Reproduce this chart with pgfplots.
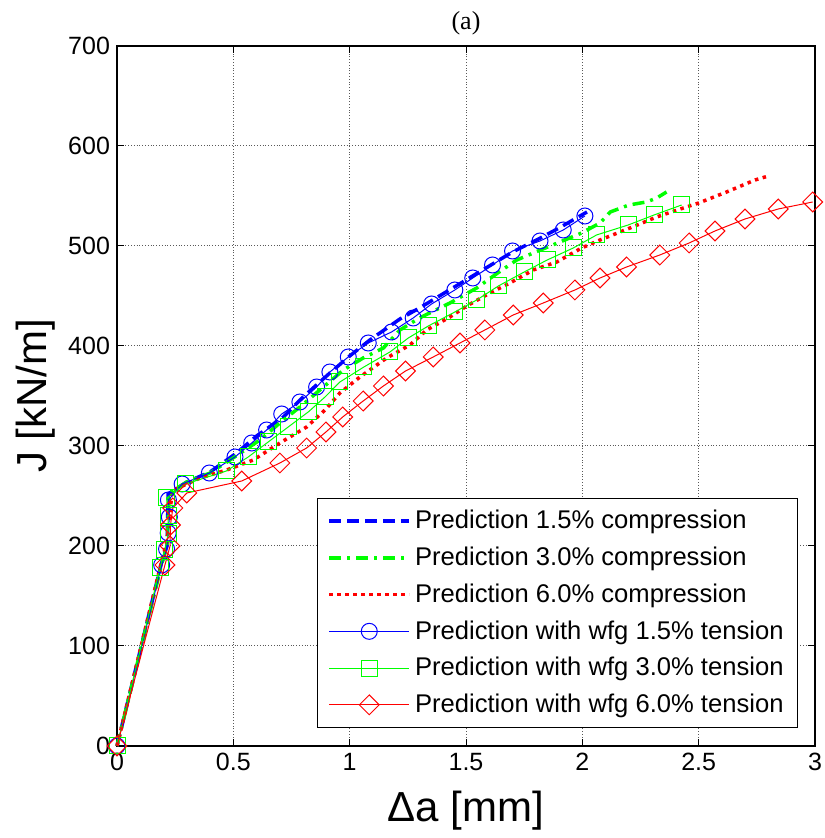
\documentclass[border=0pt]{standalone}
\usepackage{fontspec}
\setmainfont{Liberation Sans}
\newfontfamily\seriffont{Liberation Serif}
\usepackage{pgfplots}
\pgfplotsset{compat=1.18}

\definecolor{mblue}{RGB}{0,0,255}
\definecolor{mgreen}{RGB}{0,255,0}
\definecolor{mred}{RGB}{255,0,0}

\begin{document}
\begin{tikzpicture}
\path[use as bounding box] (-58.5pt,-46pt) rectangle (353.5pt,373pt);
\begin{axis}[
    scale only axis, width=349pt, height=350pt,
    xmin=0, xmax=3, ymin=0, ymax=700,
    xtick={0,0.5,1,1.5,2,2.5,3},
    xticklabels={0,0.5,1,1.5,2,2.5,3},
    ytick={0,100,...,700},
    tick align=inside, major tick length=3.5pt,
    tick style={black, line width=0.5pt},
    axis line style={line width=0.75pt},
    grid=major, grid style={densely dotted, black!65, line width=0.5pt},
    /pgf/number format/assume math mode=true,
    ticklabel style={font=\fontsize{12.5}{14}\selectfont},
    xlabel={Δa [mm]}, ylabel={J [kN/m]},
    xlabel style={font=\fontsize{21}{24}\selectfont, at={(axis description cs:0.5,-0.093)}, anchor=center},
    ylabel style={font=\fontsize{21}{24}\selectfont, at={(axis description cs:-0.117,0.5)}, anchor=center},
    title={(a)}, every axis title shift=0pt,
    title style={font=\seriffont\fontsize{13}{15}\selectfont, at={(axis description cs:0.5,1.033)}, anchor=center},
    clip=false,
    legend cell align=left,
    legend style={at={(rel axis cs:0.9756,0.0257)}, anchor=south east,
        font=\fontsize{12.8}{14}\selectfont, draw=black, fill=white,
        row sep=3.6pt, inner xsep=5pt, inner ysep=4pt},
    legend image code/.code={\draw[mark repeat=2,mark phase=2,#1] plot coordinates {(0pt,0pt) (20pt,0pt) (40pt,0pt)};},
]
\addplot[mblue, line width=1.75pt, dash pattern=on 6pt off 3pt] coordinates {
(0,0)(0.19,182)(0.215,200)(0.22,252)(0.30,264)(0.40,274)(0.514,293)(0.60,310)
(0.715,329)(0.80,349)(0.915,373)(1.0,390)(1.087,406)(1.216,427)(1.30,438)(1.40,452)
(1.50,466)(1.60,480)(1.70,494)(1.82,508)(1.90,518)(2.02,534)
};
\addlegendentry{Prediction 1.5\% compression}
\addplot[mgreen, line width=1.75pt, dash pattern=on 6pt off 3pt on 1.5pt off 3pt] coordinates {
(0,0)(0.19,180)(0.215,200)(0.225,253)(0.30,264)(0.40,273)(0.486,286)(0.614,306)
(0.70,323)(0.786,339)(0.872,356)(0.973,376)(1.058,388)(1.145,398)(1.216,416)(1.30,428)
(1.431,443)(1.546,458)(1.63,472)(1.718,486)(1.82,496)(1.904,504)(1.997,513)(2.076,523)
(2.12,534)(2.20,541)(2.276,544)(2.32,548)(2.362,554)
};
\addlegendentry{Prediction 3.0\% compression}
\addplot[mred, line width=1.75pt, dash pattern=on 1.75pt off 2.25pt] coordinates {
(0,0)(0.19,183)(0.215,205)(0.235,250)(0.242,256)(0.357,268)(0.471,276)(0.586,286)
(0.70,303)(0.815,319)(0.894,336)(0.958,353)(1.044,369)(1.159,388)(1.259,401)(1.331,416)
(1.431,429)(1.503,440)(1.603,453)(1.689,463)(1.789,476)(1.89,484)(1.997,498)(2.076,506)
(2.205,518)(2.319,529)(2.434,538)(2.50,543)(2.62,554)(2.742,566)(2.80,570)
};
\addlegendentry{Prediction 6.0\% compression}
\addplot[mblue, line width=0.5pt, mark=o, mark size=4pt, mark options={solid}] coordinates {
(0,0)(0.192,181)(0.213,197)(0.22,213)(0.225,229)(0.221,246)(0.28,262)(0.397,273)
(0.507,289)(0.579,303)(0.643,316)(0.708,332)(0.786,344)(0.858,359)(0.915,374)(0.994,389)
(1.08,403)(1.18,414)(1.273,428)(1.352,442)(1.452,456)(1.529,468)(1.614,481)(1.70,495)
(1.818,505)(1.918,516)(2.011,530)
};
\addlegendentry{Prediction with wfg 1.5\% tension}
\addplot[mgreen, line width=0.5pt, mark=square, mark size=4pt, mark options={solid}] coordinates {
(0,0)(0.185,178)(0.206,196)(0.22,212)(0.22,230)(0.213,248)(0.295,262)(0.47,275)
(0.564,289)(0.650,304)(0.736,319)(0.822,334)(0.894,349)(0.958,364)(1.061,379)(1.173,394)
(1.252,408)(1.338,420)(1.452,434)(1.546,446)(1.639,460)(1.750,474)(1.849,486)(1.961,498)
(2.061,511)(2.197,521)(2.308,531)(2.427,541)
};
\addlegendentry{Prediction with wfg 3.0\% tension}
\addplot[mred, line width=0.5pt, mark=square, mark size=3.5pt, mark options={solid, rotate=45}] coordinates {
(0,0)(0.206,181)(0.228,200)(0.23,221)(0.24,238)(0.30,253)(0.536,265)(0.70,283)
(0.815,298)(0.898,314)(0.97,329)(1.058,345)(1.145,360)(1.240,375)(1.359,389)(1.474,403)
(1.581,416)(1.703,431)(1.832,443)(1.968,456)(2.076,468)(2.19,479)(2.333,491)(2.459,503)
(2.57,515)(2.699,527)(2.842,537)(2.99,544)
};
\addlegendentry{Prediction with wfg 6.0\% tension}
\end{axis}
\end{tikzpicture}
\end{document}
